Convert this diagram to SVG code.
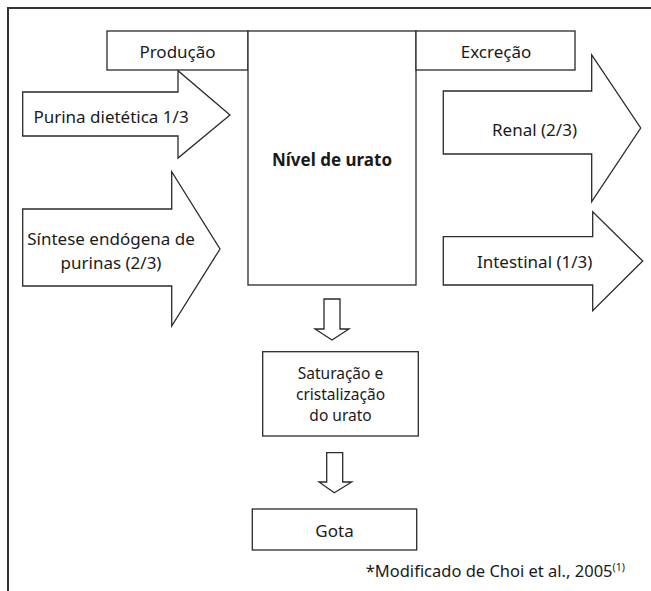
<svg xmlns="http://www.w3.org/2000/svg" width="651" height="591" viewBox="0 0 651 591">
<style>
.shape{fill:#fff;stroke:#2a2a2a;stroke-width:1.3}
.t{font-family:"Noto Sans","Open Sans",sans-serif;font-size:17px;fill:#1a1a1a;text-anchor:middle}
.b{font-weight:bold}
.s{font-size:15.5px}
.frame{fill:none;stroke:#333;stroke-width:2}
</style>
<rect width="651" height="591" fill="#fff"/>
<path class="frame" d="M8,591 V8 H651"/>
<g id="producao"><rect class="shape" x="107" y="31" width="141" height="39"/><text class="t" x="177.5" y="57.5">Produção</text></g>
<g id="nivel"><rect class="shape" x="248" y="31" width="168" height="254"/><text class="t b" x="332" y="166">Nível de urato</text></g>
<g id="excrecao"><rect class="shape" x="416" y="31" width="159" height="39"/><text class="t" x="496" y="57.5">Excreção</text></g>
<g id="purina"><path class="shape" d="M22.7,92 H178 V70.7 L230,115 L178,158 V136 H22.7 Z"/><text class="t" x="111" y="123">Purina dietética 1/3</text></g>
<g id="sintese"><path class="shape" d="M22.7,209 H171.7 V171.7 L220,249 L171.7,326 V286 H22.7 Z"/><text class="t" x="111" y="245">Síntese endógena de</text><text class="t" x="111" y="268.5">purinas (2/3)</text></g>
<g id="renal"><path class="shape" d="M443.3,91 H591.7 V55 L640.7,128 L591.7,201.7 V154 H443.3 Z"/><text class="t" x="534.5" y="136">Renal (2/3)</text></g>
<g id="intestinal"><path class="shape" d="M443.3,236.7 H592.7 V211.7 L642.7,261 L592.7,310.7 V285 H443.3 Z"/><text class="t" x="534.7" y="268">Intestinal (1/3)</text></g>
<g id="saturacao"><rect class="shape" x="262.7" y="351.7" width="155.6" height="84.3"/><text class="t s" x="340.5" y="378.5">Saturação e</text><text class="t s" x="340.5" y="399.8">cristalização</text><text class="t s" x="340.5" y="421.1">do urato</text></g>
<g id="gota"><rect class="shape" x="252.3" y="509" width="164.4" height="41"/><text class="t" x="334.5" y="536.5">Gota</text></g>
<g id="connectors">
<path class="shape" d="M324,299 H340 V329 H349 L332,340 L315,329 H324 Z"/>
<path class="shape" d="M326.7,452.7 H342.7 V482 H351.7 L334.3,492.7 L319,482 H326.7 Z"/>
</g>
<text class="t" style="text-anchor:start;font-size:16.5px" x="365.7" y="577">*Modificado de Choi et al., 2005<tspan font-size="10.5" dy="-6">(1)</tspan></text>
</svg>
